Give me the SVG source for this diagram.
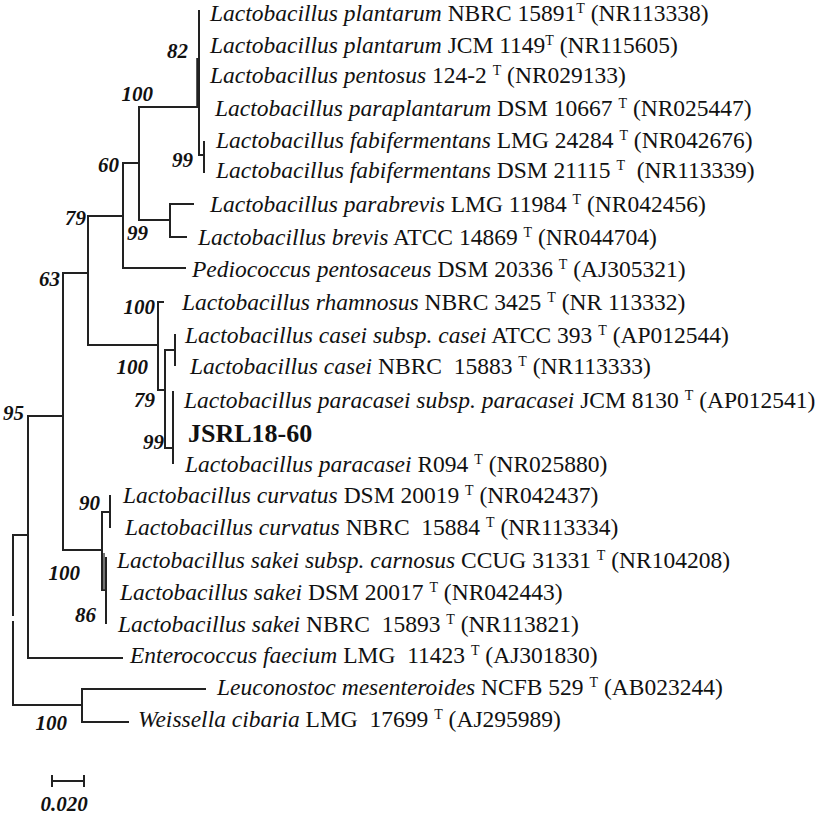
<svg xmlns="http://www.w3.org/2000/svg" width="827" height="817" viewBox="0 0 827 817">
<style>
.br{fill:none;stroke:#222;stroke-width:2;stroke-linecap:square}
.thk{fill:none;stroke:#222;stroke-width:3.5}
.thin{fill:none;stroke:#444;stroke-width:1.5}
.lb{font-family:"Liberation Serif","Times New Roman",serif;font-size:23.5px;fill:#111}
.it{font-style:italic}
.sup{font-size:14px}
.bs{font-family:"Liberation Serif","Times New Roman",serif;font-size:21px;font-weight:bold;font-style:italic;fill:#111;text-anchor:end}
.bold{font-family:"Liberation Serif","Times New Roman",serif;font-size:26px;font-weight:bold;fill:#111}
</style>
<rect width="827" height="817" fill="#fff"/>
<g id="connectors">
<path class="br" d="M199,11 V155 M199,155 H204 M204,142 V172"/>
<path class="thk" d="M198,58 V107"/>
<path class="br" d="M139,107 H199 M139,107 V220 M139,220 H170 M170,204 V237 M170,204 H193 M170,237 H186"/>
<path class="br" d="M123,163 H139 M123,163 V268 M123,268 H185"/>
<path class="br" d="M88,216 H123 M88,216 V345 M88,345 H158"/>
<path class="br" d="M63,273 H88 M63,273 V550"/>
<path class="br" d="M158,302 V390 M158,302 H163 M158,390 H165 M165,350 V448 M165,350 H175 M175,335 V365 M165,448 H173 M173,392 V463"/>
<path class="br" d="M63,550 H102 M102,512 V590 M102,512 H110 M110,496 V527 M102,590 H106 M106,558 V623"/>
<path class="thin" d="M104,553 V590"/>
<path class="br" d="M28,416 H63 M28,416 V658 M28,658 H122"/>
<path class="br" d="M13,535 H28 M13,535 V615 M13,622 V705 M13,705 H82 M82,689 V722 M82,689 H205 M82,722 H128"/>
</g>
<g id="leaf-1"><text class="lb" x="210" y="21"><tspan class="it">Lactobacillus plantarum</tspan> NBRC 15891<tspan class="sup" dy="-8">T</tspan><tspan dy="8"> (NR113338)</tspan></text></g>
<g id="leaf-2"><text class="lb" x="210" y="53"><tspan class="it">Lactobacillus plantarum</tspan> JCM 1149<tspan class="sup" dy="-8">T</tspan><tspan dy="8"> (NR115605)</tspan></text></g>
<g id="leaf-3"><text class="lb" x="210" y="83"><tspan class="it">Lactobacillus pentosus</tspan> 124-2 <tspan class="sup" dy="-8">T</tspan><tspan dy="8"> (NR029133)</tspan></text></g>
<g id="leaf-4"><text class="lb" x="215" y="116"><tspan class="it">Lactobacillus paraplantarum</tspan> DSM 10667 <tspan class="sup" dy="-8">T</tspan><tspan dy="8"> (NR025447)</tspan></text></g>
<g id="leaf-5"><text class="lb" x="216" y="148"><tspan class="it">Lactobacillus fabifermentans</tspan> LMG 24284 <tspan class="sup" dy="-8">T</tspan><tspan dy="8"> (NR042676)</tspan></text></g>
<g id="leaf-6"><text class="lb" x="216" y="178"><tspan class="it">Lactobacillus fabifermentans</tspan> DSM 21115 <tspan class="sup" dy="-8">T</tspan><tspan dy="8" xml:space="preserve">  (NR113339)</tspan></text></g>
<g id="leaf-7"><text class="lb" x="210" y="212"><tspan class="it">Lactobacillus parabrevis</tspan> LMG 11984 <tspan class="sup" dy="-8">T</tspan><tspan dy="8"> (NR042456)</tspan></text></g>
<g id="leaf-8"><text class="lb" x="198" y="245"><tspan class="it">Lactobacillus brevis</tspan> ATCC 14869 <tspan class="sup" dy="-8">T</tspan><tspan dy="8"> (NR044704)</tspan></text></g>
<g id="leaf-9"><text class="lb" x="192" y="277"><tspan class="it">Pediococcus pentosaceus</tspan> DSM 20336 <tspan class="sup" dy="-8">T</tspan><tspan dy="8"> (AJ305321)</tspan></text></g>
<g id="leaf-10"><text class="lb" x="182" y="310"><tspan class="it">Lactobacillus rhamnosus</tspan> NBRC 3425 <tspan class="sup" dy="-8">T</tspan><tspan dy="8"> (NR 113332)</tspan></text></g>
<g id="leaf-11"><text class="lb" x="185" y="343"><tspan class="it">Lactobacillus casei subsp. casei</tspan> ATCC 393 <tspan class="sup" dy="-8">T</tspan><tspan dy="8"> (AP012544)</tspan></text></g>
<g id="leaf-12"><text class="lb" x="190" y="374" xml:space="preserve"><tspan class="it">Lactobacillus casei</tspan> NBRC  15883 <tspan class="sup" dy="-8">T</tspan><tspan dy="8"> (NR113333)</tspan></text></g>
<g id="leaf-13"><text class="lb" x="184" y="408"><tspan class="it">Lactobacillus paracasei subsp. paracasei</tspan> JCM 8130 <tspan class="sup" dy="-8">T</tspan><tspan dy="8"> (AP012541)</tspan></text></g>
<g id="leaf-14"><text class="bold" x="188" y="442">JSRL18-60</text></g>
<g id="leaf-15"><text class="lb" x="185" y="472"><tspan class="it">Lactobacillus paracasei</tspan> R094 <tspan class="sup" dy="-8">T</tspan><tspan dy="8"> (NR025880)</tspan></text></g>
<g id="leaf-16"><text class="lb" x="123" y="503"><tspan class="it">Lactobacillus curvatus</tspan> DSM 20019 <tspan class="sup" dy="-8">T</tspan><tspan dy="8"> (NR042437)</tspan></text></g>
<g id="leaf-17"><text class="lb" x="125" y="535" xml:space="preserve"><tspan class="it">Lactobacillus curvatus</tspan> NBRC  15884 <tspan class="sup" dy="-8">T</tspan><tspan dy="8"> (NR113334)</tspan></text></g>
<g id="leaf-18"><text class="lb" x="117" y="568"><tspan class="it">Lactobacillus sakei subsp. carnosus</tspan> CCUG 31331 <tspan class="sup" dy="-8">T</tspan><tspan dy="8"> (NR104208)</tspan></text></g>
<g id="leaf-19"><text class="lb" x="120" y="600"><tspan class="it">Lactobacillus sakei</tspan> DSM 20017 <tspan class="sup" dy="-8">T</tspan><tspan dy="8"> (NR042443)</tspan></text></g>
<g id="leaf-20"><text class="lb" x="118" y="632" xml:space="preserve"><tspan class="it">Lactobacillus sakei</tspan> NBRC  15893 <tspan class="sup" dy="-8">T</tspan><tspan dy="8"> (NR113821)</tspan></text></g>
<g id="leaf-21"><text class="lb" x="130" y="663" xml:space="preserve"><tspan class="it">Enterococcus faecium</tspan> LMG  11423 <tspan class="sup" dy="-8">T</tspan><tspan dy="8"> (AJ301830)</tspan></text></g>
<g id="leaf-22"><text class="lb" x="217" y="695"><tspan class="it">Leuconostoc mesenteroides</tspan> NCFB 529 <tspan class="sup" dy="-8">T</tspan><tspan dy="8"> (AB023244)</tspan></text></g>
<g id="leaf-23"><text class="lb" x="138" y="727" xml:space="preserve"><tspan class="it">Weissella cibaria</tspan> LMG  17699 <tspan class="sup" dy="-8">T</tspan><tspan dy="8"> (AJ295989)</tspan></text></g>
<g id="bootstrap">
<text class="bs" x="188" y="58">82</text>
<text class="bs" x="153" y="101">100</text>
<text class="bs" x="193" y="167">99</text>
<text class="bs" x="119" y="172">60</text>
<text class="bs" x="86" y="225">79</text>
<text class="bs" x="148" y="240">99</text>
<text class="bs" x="60" y="286">63</text>
<text class="bs" x="155" y="314">100</text>
<text class="bs" x="148" y="374">100</text>
<text class="bs" x="155" y="407">79</text>
<text class="bs" x="164" y="449">99</text>
<text class="bs" x="24" y="420">95</text>
<text class="bs" x="100" y="510">90</text>
<text class="bs" x="80" y="580">100</text>
<text class="bs" x="96" y="622">86</text>
<text class="bs" x="67" y="730">100</text>
</g>
<g id="scale-bar">
<path class="br" d="M52,781 H84 M52,776 V786 M84,776 V786"/>
<text class="bs" x="64" y="811" style="text-anchor:middle">0.020</text>
</g>
</svg>
